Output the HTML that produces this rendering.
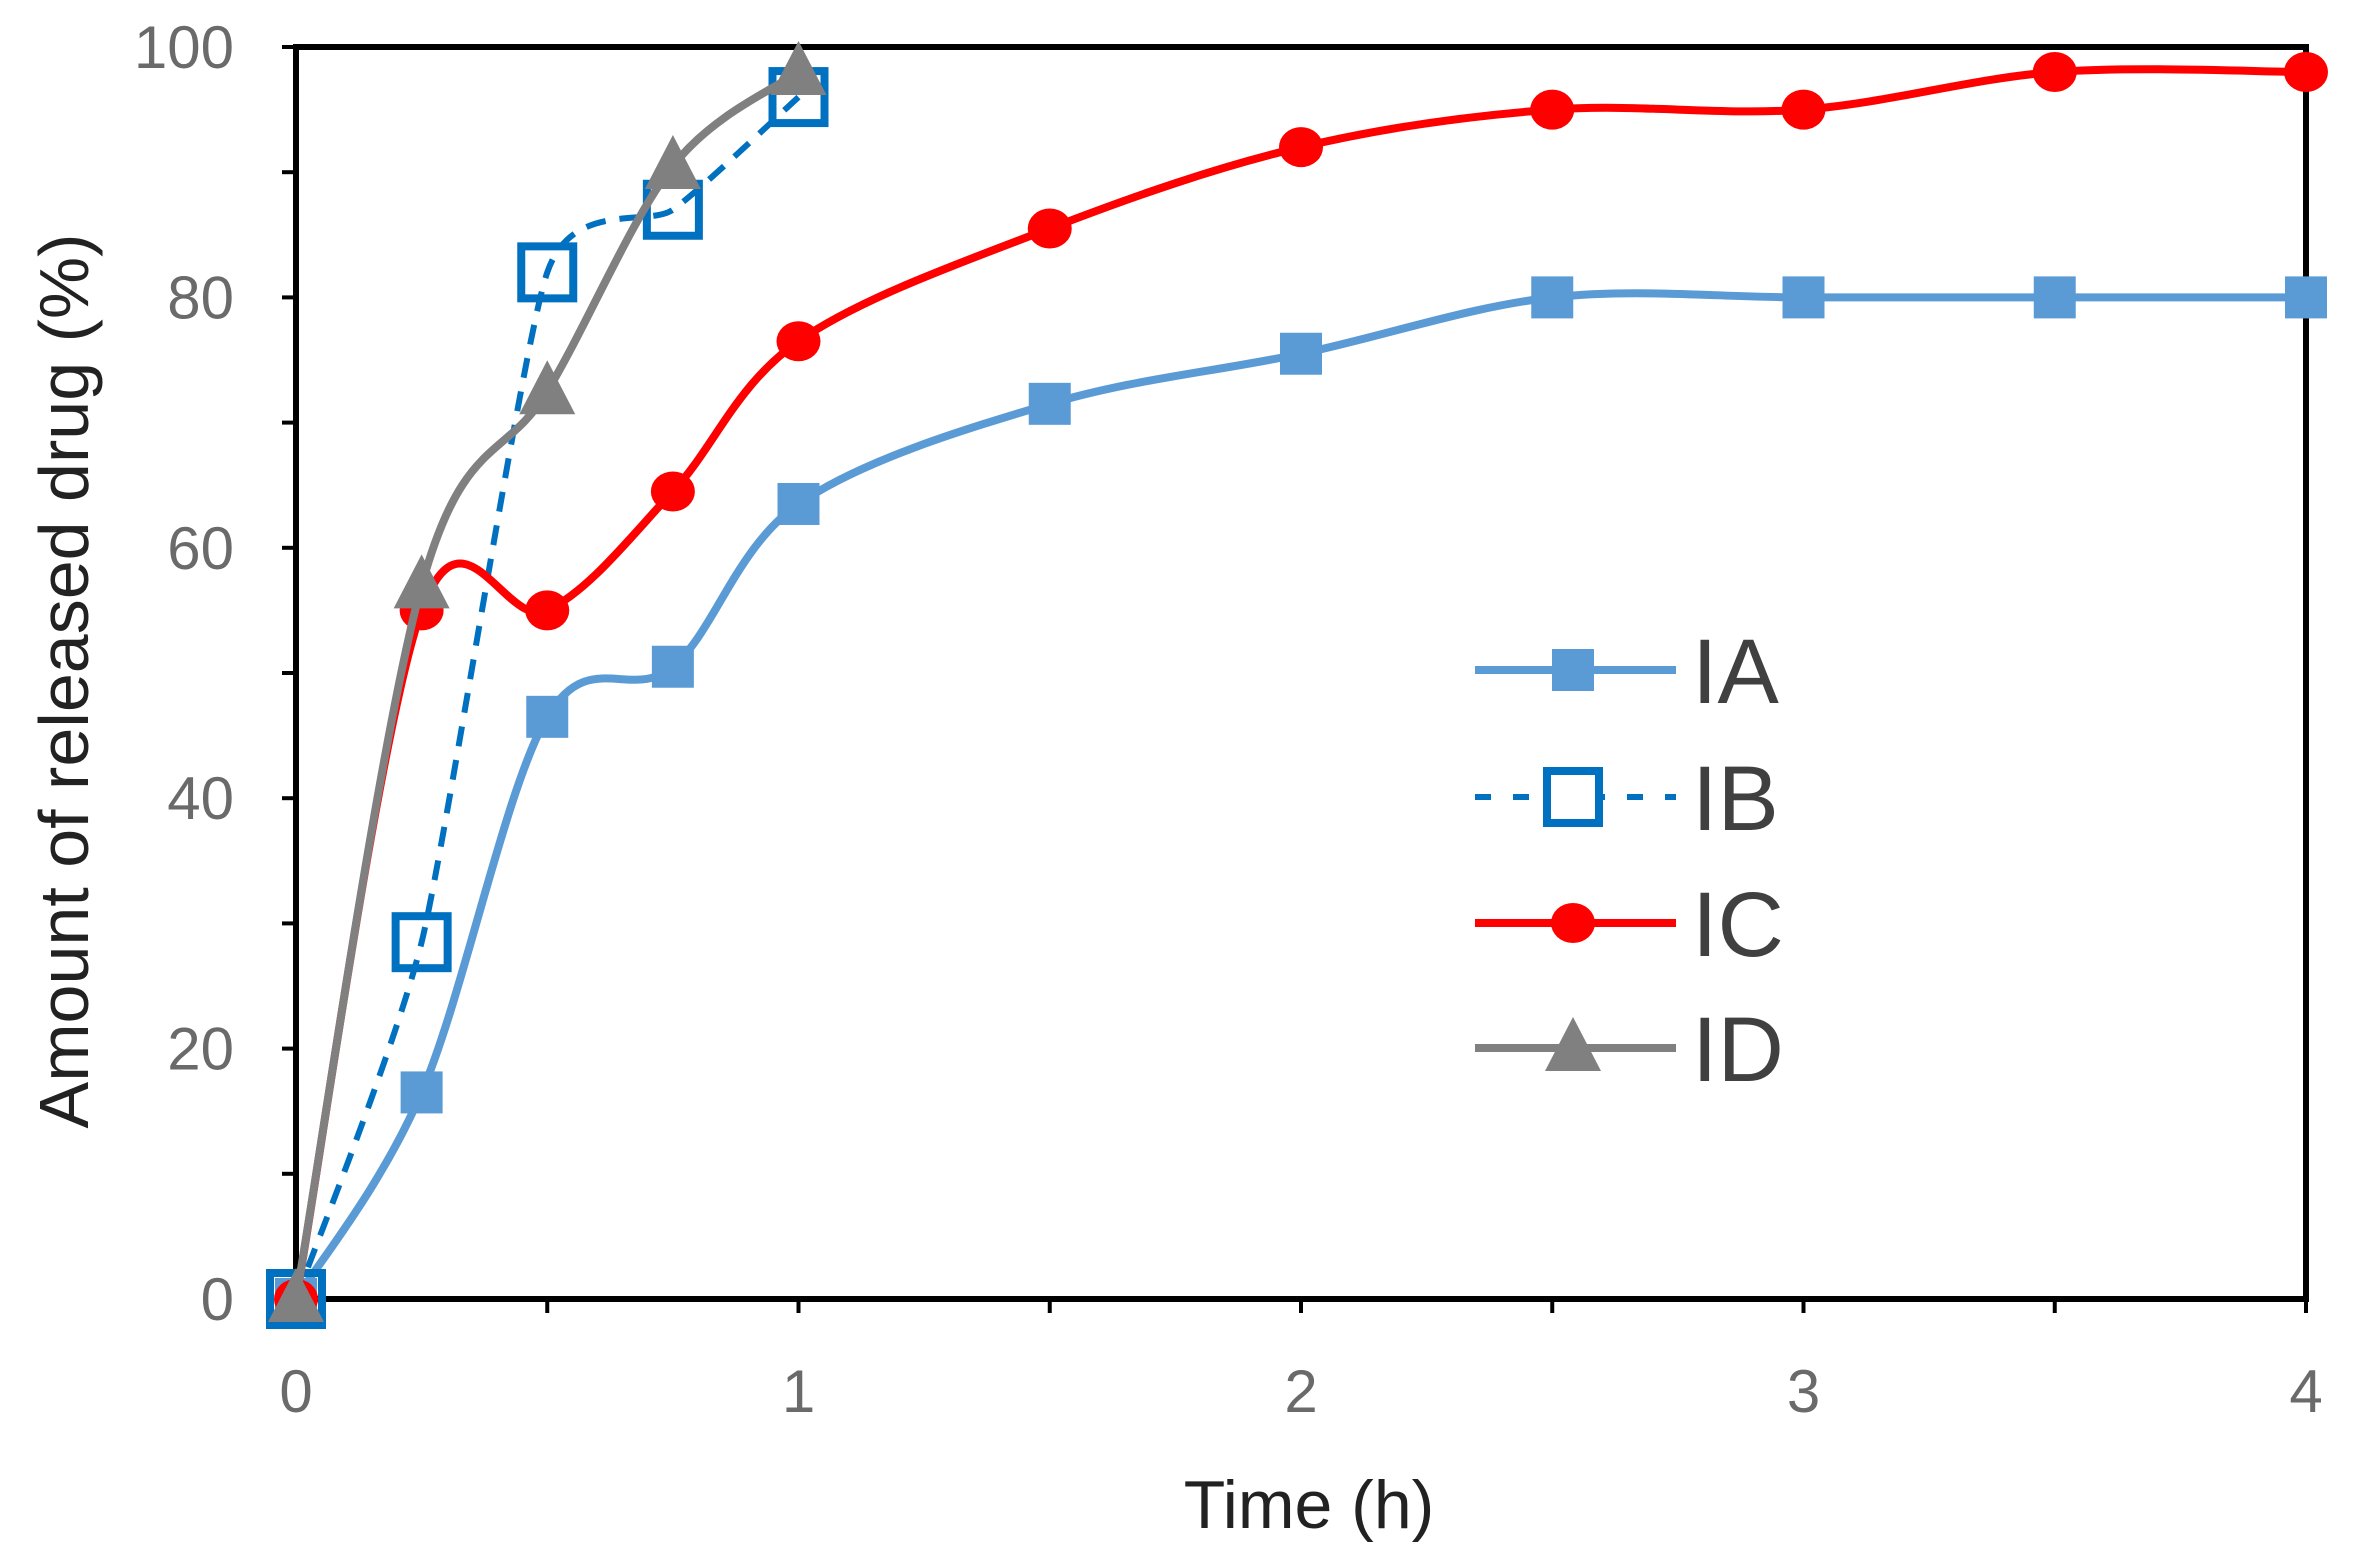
<!DOCTYPE html>
<html><head><meta charset="utf-8"><style>
html,body{margin:0;padding:0;background:#fff;}
svg{display:block;}
text{font-family:"Liberation Sans",sans-serif;}
</style></head><body>
<svg id="s" width="2361" height="1560" xmlns="http://www.w3.org/2000/svg">
<rect width="2361" height="1560" fill="#fff"/>
<g id="g"></g>
</svg>
<script>
const X0=296,X1=2306,Y0=1299,Y1=47;
const sx=t=>X0+(X1-X0)*t/4, sy=v=>Y0+(Y1-Y0)*v/100;
const ns="http://www.w3.org/2000/svg", g=document.getElementById('g');
function el(n,a,txt){const e=document.createElementNS(ns,n);for(const k in a)e.setAttribute(k,a[k]);if(txt!==undefined)e.textContent=txt;g.appendChild(e);return e;}
function path(pts,k){k=k||1/6;let d=`M${pts[0][0]},${pts[0][1]}`;for(let i=0;i<pts.length-1;i++){const p0=pts[Math.max(i-1,0)],p1=pts[i],p2=pts[i+1],p3=pts[Math.min(i+2,pts.length-1)];d+=` C${p1[0]+(p2[0]-p0[0])*k},${p1[1]+(p2[1]-p0[1])*k} ${p2[0]-(p3[0]-p1[0])*k},${p2[1]-(p3[1]-p1[1])*k} ${p2[0]},${p2[1]}`;}return d;}
for(let v=0;v<=100;v+=10){el('line',{x1:X0-14,x2:X0,y1:sy(v),y2:sy(v),stroke:'#000','stroke-width':4});}
for(let v=0;v<=100;v+=20){el('text',{x:X0-62,y:sy(v)+21,'text-anchor':'end','font-size':60,fill:'#6a6a6a'},v);}
for(let t=0;t<=4;t+=0.5){el('line',{x1:sx(t),x2:sx(t),y1:Y0,y2:Y0+14,stroke:'#000','stroke-width':4});}
for(let t=0;t<=4;t++){el('text',{x:sx(t),y:1412,'text-anchor':'middle','font-size':60,fill:'#6a6a6a'},t);}
el('rect',{x:X0,y:Y1,width:X1-X0,height:Y0-Y1,fill:'none',stroke:'#000','stroke-width':6});
el('text',{x:1309,y:1528,'text-anchor':'middle','font-size':68,fill:'#222'},'Time (h)');
el('text',{x:0,y:0,transform:'translate(88,681) rotate(-90)','text-anchor':'middle','font-size':70,fill:'#222'},'Amount of released drug (%)');
const T=[0,.25,.5,.75,1,1.5,2,2.5,3,3.5,4];
const IA=[0,16.5,46.5,50.5,63.5,71.5,75.5,80,80,80,80];
const IB=[0,28.5,82,87,96];
const IC=[0,55,55,64.5,76.5,85.5,92,95,95,98,98];
const ID=[0,57,72.5,90.5,98];
const P=a=>a.map((v,i)=>[sx(T[i]),sy(v)]);
function sq(x,y,c,fill){if(fill)el('rect',{x:x-21,y:y-21,width:42,height:42,fill:c});else el('rect',{x:x-26,y:y-26,width:52,height:52,fill:'none',stroke:c,'stroke-width':8});}
function ci(x,y){el('ellipse',{cx:x,cy:y,rx:22,ry:20,fill:'#ff0000'});}
function tr(x,y){el('polygon',{points:`${x},${y-31} ${x+28},${y+23} ${x-28},${y+23}`,fill:'#808080'});}
el('path',{d:path(P(IA)),fill:'none',stroke:'#5b9bd5','stroke-width':8});
P(IA).forEach(p=>sq(p[0],p[1],'#5b9bd5',true));
el('path',{d:path(P(IB),0.1),fill:'none',stroke:'#0070c0','stroke-width':6,'stroke-dasharray':'20,14'});
P(IB).forEach(p=>sq(p[0],p[1],'#0070c0',false));
el('path',{d:path(P(IC)),fill:'none',stroke:'#ff0000','stroke-width':8});
P(IC).forEach(p=>ci(p[0],p[1]));
el('path',{d:path(P(ID)),fill:'none',stroke:'#808080','stroke-width':8});
P(ID).forEach(p=>tr(p[0],p[1]));
const LY=[670,797,923,1048],lx1=1475,lx2=1676,mx=1573;
el('line',{x1:lx1,x2:lx2,y1:LY[0],y2:LY[0],stroke:'#5b9bd5','stroke-width':8});sq(mx,LY[0],'#5b9bd5',true);
el('line',{x1:lx1,x2:lx2,y1:LY[1],y2:LY[1],stroke:'#0070c0','stroke-width':6,'stroke-dasharray':'16,22'});el('rect',{x:mx-30,y:LY[1]-30,width:60,height:60,fill:'#fff'});sq(mx,LY[1],'#0070c0',false);
el('line',{x1:lx1,x2:lx2,y1:LY[2],y2:LY[2],stroke:'#ff0000','stroke-width':8});ci(mx,LY[2]);
el('line',{x1:lx1,x2:lx2,y1:LY[3],y2:LY[3],stroke:'#808080','stroke-width':8});tr(mx,LY[3]);
['IA','IB','IC','ID'].forEach((s,i)=>el('text',{x:1692,y:LY[i]+33,'font-size':92,fill:'#404040'},s));
</script>
</body></html>
